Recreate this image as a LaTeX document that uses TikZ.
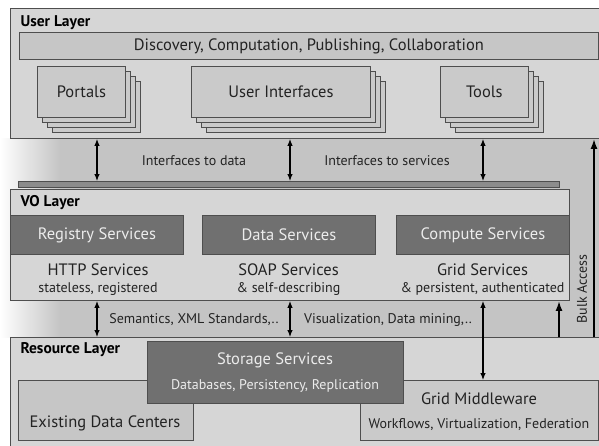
\documentclass[tikz,border=0pt]{standalone}
\usepackage{fontspec}
\setmainfont{PT Sans}
\usetikzlibrary{arrows.meta}
\definecolor{layergray}{RGB}{214,214,214}
\definecolor{bargray}{RGB}{198,198,198}
\definecolor{stackgray}{RGB}{202,202,202}
\definecolor{darkbox}{RGB}{112,112,112}
\definecolor{edgegray}{RGB}{78,78,78}
\definecolor{vobargray}{RGB}{140,140,140}
\definecolor{shadegray}{RGB}{196,196,196}
\definecolor{textdark}{RGB}{35,35,35}
\definecolor{textlight}{RGB}{236,236,236}
\newcommand{\bigtxt}{\fontsize{16.5}{19}\selectfont}
\newcommand{\midtxt}{\fontsize{14}{16}\selectfont}

\begin{document}
\begin{tikzpicture}[x=1pt,y=-1pt,
  layer/.style={draw=edgegray, fill=layergray, line width=0.9pt, anchor=north west, inner sep=0pt},
  title/.style={anchor=base west, font=\bfseries\fontsize{15.5}{18}\selectfont, text=black},
  bar/.style={draw=edgegray, fill=bargray, line width=0.8pt, anchor=north west, inner sep=0pt, font=\bigtxt, text=textdark},
  stack/.style={draw=edgegray, fill=stackgray, line width=0.8pt},
  darksvc/.style={draw=edgegray, fill=darkbox, line width=0.8pt, anchor=north west, inner sep=0pt, font=\bigtxt, text=textlight},
  lbl/.style={anchor=base, text=textdark},
  dbl/.style={{Latex[length=7pt,width=5.5pt]}-{Latex[length=7pt,width=5.5pt]}, line width=1.1pt},
  bulk/.style={-{Latex[length=10pt,width=7pt]}, line width=1.8pt}]
\useasboundingbox (0,0) rectangle (599,445);
\clip (0,0) rectangle (599,445);

% Shadow behind the layers
\fill[left color=white, right color=shadegray] (0,138) rectangle (60,337);
\fill[shadegray] (60,138) rectangle (599,337);

% User layer
\node[layer, minimum width=600pt, minimum height=130pt] (user) at (10,8) {};
\node[title] (usertitle) at (17,26) {User Layer};
\node[bar, minimum width=579pt, minimum height=27pt] (tasks) at (19,32) {Discovery, Computation, Publishing, Collaboration};
\foreach \d in {15,10,5} \draw[stack] (37+\d,66+\d) rectangle ++(88,51);
\node[stack, anchor=north west, minimum width=88pt, minimum height=51pt, font=\bigtxt, text=textdark] (portals) at (37,66) {Portals};
\foreach \d in {15,10,5} \draw[stack] (191+\d,66+\d) rectangle ++(179,51);
\node[stack, anchor=north west, minimum width=179pt, minimum height=51pt, font=\bigtxt, text=textdark] (ui) at (191,66) {User Interfaces};
\foreach \d in {15,10,5} \draw[stack] (440+\d,66+\d) rectangle ++(88,51);
\node[stack, anchor=north west, minimum width=88pt, minimum height=51pt, font=\bigtxt, text=textdark] (tools) at (440,66) {Tools};

% VO layer
\node[layer, fill=vobargray, minimum width=541pt, minimum height=6pt] (vobar) at (18,181) {};
\node[layer, minimum width=559pt, minimum height=111pt] (vo) at (10,189) {};
\node[title] (votitle) at (17,206) {VO Layer};
\node[darksvc, minimum width=173pt, minimum height=39pt] (registry) at (10,215) {Registry Services};
\node[darksvc, minimum width=173pt, minimum height=39pt] (data) at (202,215) {Data Services};
\node[darksvc, minimum width=173pt, minimum height=39pt] (compute) at (396,215) {Compute Services};
\node[lbl, font=\bigtxt] (http) at (98,275) {HTTP Services};
\node[lbl, font=\midtxt] (httpnote) at (98,292) {stateless, registered};
\node[lbl, font=\bigtxt] (soap) at (288.5,275) {SOAP Services};
\node[lbl, font=\midtxt] (soapnote) at (288.5,292) {\& self-describing};
\node[lbl, font=\bigtxt] (grid) at (482.5,275) {Grid Services};
\node[lbl, font=\midtxt] (gridnote) at (482.5,292) {\& persistent, authenticated};

% Resource layer
\node[layer, minimum width=600pt, minimum height=120pt] (res) at (10,337) {};
\node[title] (restitle) at (17,353) {Resource Layer};
\node[layer, fill=bargray, minimum width=175pt, minimum height=60pt] (centers) at (18,380) {};
\node[lbl, font=\bigtxt] (centerstxt) at (105,427) {Existing Data Centers};
\node[layer, fill=stackgray, minimum width=238pt, minimum height=60pt] (middleware) at (360,380) {};
\node[lbl, font=\bigtxt] (mwtxt) at (479,404) {Grid Middleware};
\node[lbl, font=\midtxt] (mwnote) at (479,428) {Workflows, Virtualization, Federation};
\node[layer, fill=darkbox, minimum width=256pt, minimum height=62pt] (storage) at (147,341) {};
\node[lbl, font=\bigtxt, text=textlight] (storagetxt) at (275,364) {Storage Services};
\node[lbl, font=\midtxt, text=textlight] (storagenote) at (275,389) {Databases, Persistency, Replication};

% Arrows between layers
\draw[dbl] (97,0 |- user.south) -- (97,0 |- vobar.north);
\draw[dbl] (290,0 |- user.south) -- (290,0 |- vobar.north);
\draw[dbl] (483,0 |- user.south) -- (483,0 |- vobar.north);
\node[lbl, font=\midtxt] (ifdata) at (194,165) {Interfaces to data};
\node[lbl, font=\midtxt] (ifsvc) at (387,165) {Interfaces to services};
\draw[dbl] (97,0 |- vo.south) -- (97,0 |- res.north);
\draw[dbl] (290,0 |- vo.south) -- (290,0 |- res.north);
\draw[dbl] (483,0 |- vo.south) -- (483,0 |- middleware.north);
\node[lbl, font=\midtxt] (semantics) at (194,323) {Semantics, XML Standards,..};
\node[lbl, font=\midtxt] (visual) at (388,323) {Visualization, Data mining,..};
\draw[bulk] (559,0 |- res.north) -- (559,0 |- vo.south);
\draw[bulk] (594,0 |- res.north) -- (594,0 |- user.south);
\node[font=\midtxt, text=textdark, rotate=90] (bulktxt) at (582,289) {Bulk Access};
\end{tikzpicture}
\end{document}
